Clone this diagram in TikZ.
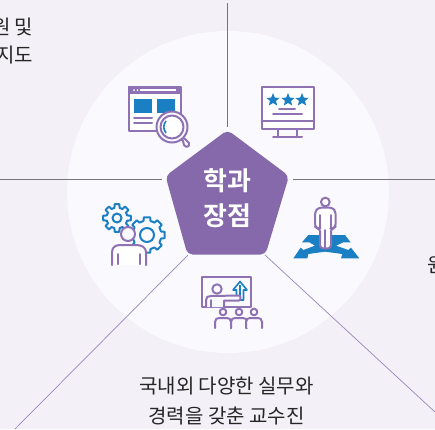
\documentclass[tikz,border=0pt]{standalone}
\usepackage{fontspec}
\setmainfont{Noto Sans CJK KR}
\newfontfamily\krbold{Noto Sans CJK KR Bold}
\definecolor{bgc}{HTML}{F3F0F7}
\definecolor{circ}{HTML}{FAF9FD}
\definecolor{pur}{HTML}{8F72B3}
\definecolor{penta}{HTML}{8569AA}
\definecolor{blu}{HTML}{1B7FC4}
\definecolor{lin}{HTML}{77737F}
\definecolor{diag}{HTML}{9A86BE}
\tikzset{
  caption/.style={font=\fontsize{20}{30}\selectfont, text=black!85, inner sep=0pt, align=center},
  hubtext/.style={font=\krbold\fontsize{26}{35}\selectfont, text=white, inner sep=0pt, align=center},
  ray/.style={draw=lin, line width=0.7pt},
  dray/.style={draw=diag, line width=0.7pt},
  ic/.style={draw=pur, line width=2pt, line join=round, line cap=round},
  icb/.style={draw=blu, line width=2pt, line join=round}
}
\newcommand{\mygear}[5]{% x y router rinner ringr
  \begin{scope}[shift={(#1,#2)}]
  \draw[icb, fill=circ] (-10:#3)
    \foreach \a in {0,45,...,315}{
      -- ({\a-10}:#3) -- ({\a+10}:#3) -- ({\a+14}:#4) -- ({\a+31}:#4)
      -- ({\a+35}:#3) } -- cycle;
  \draw[icb, fill=circ] (0,0) circle (#5);
  \end{scope}}
\begin{document}
\begin{tikzpicture}[x=1pt,y=-1pt]
\useasboundingbox (0,0) rectangle (435,429);
\clip (0,0) rectangle (435,429);
\fill[bgc] (0,0) rectangle (435,429);
\fill[circ] (228,192) circle (161);

% ray end points
\coordinate (tEnd) at (227,3);
\coordinate (tIn) at (227,127);
\coordinate (lEnd) at (0,179);
\coordinate (lIn) at (162,179);
\coordinate (rEnd) at (435,179);
\coordinate (rIn) at (293,179);
\coordinate (blEnd) at (15,429);
\coordinate (blIn) at (188,255);
\coordinate (brEnd) at (435,412);
\coordinate (brIn) at (265,255);
\draw[ray] (tEnd) -- (tIn);
\draw[ray] (lEnd) -- (lIn);
\draw[ray] (rEnd) -- (rIn);
\draw[dray] (blEnd) -- (blIn);
\draw[dray] (brEnd) -- (brIn);

% hub
\fill[penta, rounded corners=5pt] (227.5,130) -- (289,176) -- (265.5,254.5) -- (187.5,254.5) -- (165.5,176) -- cycle;
\node[hubtext] (hub) at (227.5,198) {학과\\장점};

% icon 1 browser
\draw[ic, fill=white] (128.5,87) rectangle (180.5,131);
\fill[pur] (128,86) rectangle (181,94);
\fill[white] (140,89.3) rectangle (176,90.7);
\fill[white] (134,90) circle (1) (137.5,90) circle (1);
\fill[blu] (134,99) rectangle (152,113);
\fill[blu] (157,99) rectangle (175,113);
\draw[ic] (134,117.5) -- (152,117.5) (134,122.5) -- (152,122.5);
\draw[ic, fill=circ] (180,138) -- (183,141) -- (184,145) .. controls (186,148) and (190,147) .. (189,143) -- (185,139) -- (181,137) -- cycle;
\draw[ic, fill=circ] (172,127) circle (15.5);
\draw[ic, fill=white] (172,127) circle (11.5);
\draw[blu, line width=1.6pt] (166,121) .. controls (163,125) and (163,129) .. (166,133);

% icon 2 monitor
\draw[ic, fill=white] (261.5,87) rectangle (314,129);
\draw[ic] (261.5,121) -- (314,121);
\draw[ic] (278,129) -- (278,137) (297,129) -- (297,137) (273,137) -- (302,137);
\foreach \cx in {273,288,302}{
  \fill[blu] (\cx,93) -- ({\cx+1.8},97.6) -- ({\cx+6.6},98) -- ({\cx+3},100.9) -- ({\cx+4.2},105.5) -- (\cx,103) -- ({\cx-4.2},105.5) -- ({\cx-3},100.9) -- ({\cx-6.6},98) -- ({\cx-1.8},97.6) -- cycle;}
\draw[ic] (279,109) -- (295,109) (273,114) -- (302,114);

% icon 3 gears and person
\mygear{117}{218}{14}{10.5}{4.5}
\mygear{147}{235}{18}{14.5}{7}
\draw[ic, fill=circ] (128,234) circle (7);
\draw[ic, fill=white] (112,265) -- (112,252) .. controls (112,247) and (116,245) .. (120,245) -- (136,245) .. controls (141,245) and (146,247) .. (146,252) -- (146,265);
\draw[ic] (118,254) -- (118,264) (140,254) -- (140,264);

% icon 4 person on crossroad
\begin{scope}[shift={(280,185)}, x=0.3333pt, y=-0.3333pt]
\fill[blu] (85,150) -- (195,150) -- (212,172) -- (190,172) -- (168,182) -- (205,195) -- (213,188) -- (238,220) -- (183,220) -- (187,207) -- (135,200) -- (85,207) -- (82,220) -- (40,220) -- (62,188) -- (70,195) -- (105,182) -- (88,172) -- (66,172) -- cycle;
\draw[ic, fill=white, rounded corners=3pt] (120,190) -- (120,130) -- (112,130) -- (105,125) -- (105,80) -- (115,68) -- (158,68) -- (167,80) -- (167,125) -- (160,130) -- (153,130) -- (153,190) -- cycle;
\draw[ic] (120,90) -- (120,130) (153,90) -- (153,130) (136,135) -- (136,190);
\draw[ic, fill=white] (136,51) circle (13);
\end{scope}

% icon 5 teaching
\draw[ic, fill=circ] (202,277) rectangle (250.5,307);
\draw[blu, line width=1.6pt, line join=round, fill=circ] (240,281.5) -- (233,290) -- (236.5,290) -- (236.5,300) -- (243.5,300) -- (243.5,290) -- (247,290) -- cycle;
\draw[blu, line width=1.4pt] (240,285) -- (240,299);
\draw[ic, fill=circ] (206,307) -- (206,300) .. controls (206,297) and (208,296) .. (211,296) -- (239,295.5) .. controls (241,295.5) and (241,300.5) .. (239,300.5) -- (224,300.5) -- (224,307);
\draw[ic] (211,300) -- (211,307);
\draw[ic, fill=circ] (217,289) circle (4.7);
\foreach \cx in {223,239,254}{
  \draw[ic, fill=circ] ({\cx-8},328) -- ({\cx-8},322) .. controls ({\cx-8},319) and ({\cx-6},318) .. ({\cx-4},318) -- ({\cx+4},318) .. controls ({\cx+6},318) and ({\cx+8},319) .. ({\cx+8},322) -- ({\cx+8},328);
  \draw[ic, fill=circ] (\cx,312) circle (3.3);
}

% texts
\node[caption, anchor=east] (tl1) at (33.5,27) {원 및};
\node[caption, anchor=east] (tl2) at (33.5,55) {지도};
\node[caption, anchor=west] (r1) at (427,265) {원};
\node[caption] (bot) at (226.5,401) {국내외 다양한 실무와\\경력을 갖춘 교수진};
\end{tikzpicture}
\end{document}
